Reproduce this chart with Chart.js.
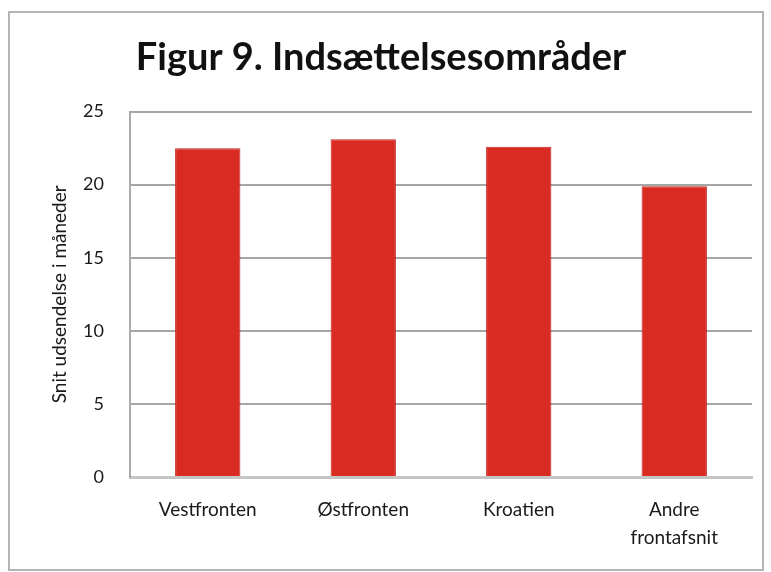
<!DOCTYPE html>
<html>
<head>
<meta charset="utf-8">
<script src="https://cdn.jsdelivr.net/npm/chart.js@4"></script>
<style>
  body { margin: 0; background: #fff; }
  #frame {
    position: absolute; left: 8px; top: 11px;
    width: 752px; height: 556px;
    border: 2px solid #b4b4b4;
    background: #fff;
  }
</style>
</head>
<body>
<div id="frame"><canvas id="chart" width="752" height="556"></canvas></div>
<script>
// Data
const categories = ['Vestfronten', 'Østfronten', 'Kroatien', ['Andre', 'frontafsnit']];
const months = [22.5, 23.1, 22.6, 19.9];
const yTicks = [0, 5, 10, 15, 20, 25];

const ctx = document.getElementById('chart').getContext('2d');

new Chart(ctx, {
  type: 'bar',
  data: {
    labels: categories,
    datasets: [{
      data: months,
      backgroundColor: '#d92b22',
      borderColor: '#c02420',
      borderWidth: 1,
      categoryPercentage: 1,
      barPercentage: 0.42
    }]
  },
  options: {
    responsive: false,
    animation: false,
    layout: { padding: { left: 0, right: 10, top: 0, bottom: 0 } },
    plugins: {
      legend: { display: false },
      tooltip: { enabled: false },
      title: {
        display: true,
        text: 'Figur 9. Indsættelsesområder',
        color: '#111',
        font: { family: 'Lato', size: 38, weight: 'bold' },
        padding: { top: 22, bottom: 31 }
      }
    },
    scales: {
      x: {
        grid: { display: false, drawTicks: false },
        border: { display: true, color: '#c6c6c6', width: 3 },
        ticks: {
          color: '#1a1a1a',
          font: { family: 'Lato', size: 19, lineHeight: 1.47 },
          padding: 19,
          maxRotation: 0
        },
        afterFit: function(scale) { scale.height = 92; }
      },
      y: {
        min: 0,
        max: 25,
        afterBuildTicks: function(scale) {
          scale.ticks = yTicks.map(v => ({ value: v }));
        },
        grid: { color: '#a6a6a6', lineWidth: 2, drawTicks: false },
        border: { display: true, color: '#aaaaaa', width: 2 },
        ticks: {
          color: '#1a1a1a',
          font: { family: 'Lato', size: 18 },
          padding: 26
        },
        title: {
          display: true,
          text: 'Snit udsendelse i måneder',
          color: '#1a1a1a',
          font: { family: 'Lato', size: 19 },
          padding: { top: 38, bottom: 0 }
        },
        afterFit: function(scale) { scale.width = 120; }
      }
    }
  }
});
</script>
</body>
</html>
